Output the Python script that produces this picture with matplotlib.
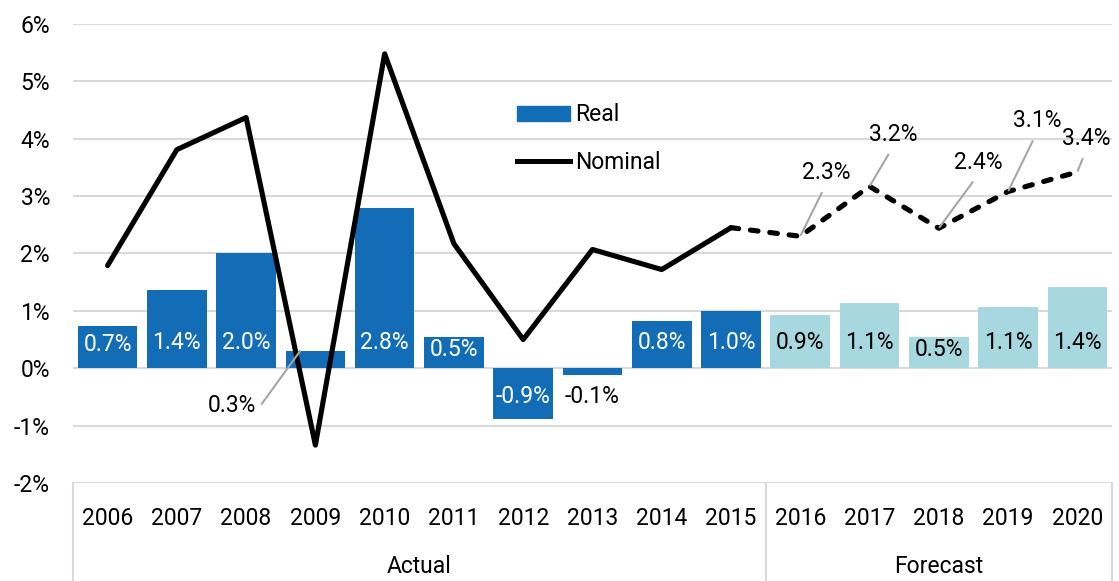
import matplotlib.pyplot as plt
from matplotlib.patches import Patch
from matplotlib.lines import Line2D

plt.rcParams['font.family'] = ['Roboto', 'DejaVu Sans']

years = [str(y) for y in range(2006, 2021)]
real = [0.74, 1.37, 2.0, 0.3, 2.8, 0.54, -0.89, -0.12, 0.82, 0.99, 0.92, 1.13, 0.54, 1.06, 1.41]
nominal = [1.79, 3.81, 4.37, -1.34, 5.48, 2.17, 0.50, 2.07, 1.72, 2.45, 2.3, 3.17, 2.44, 3.08, 3.42]
groups = ['Actual', 'Forecast']
n_actual = 10

DARK = '#136db6'
LIGHT = '#a8d8df'
GRID = '#d9d9d9'
LEADER = '#a6a6a6'
FS = 16.5

fig = plt.figure(figsize=(11.19, 5.81), dpi=100)
ax = fig.add_axes([0.0652, 0.1687, 0.9285, 0.79])

x = list(range(len(years)))
colors = [DARK if i < n_actual else LIGHT for i in x]
ax.bar(x, real, width=0.86, color=colors, zorder=2)

# nominal line, solid for actual and dashed for forecast
ax.plot(x[:n_actual], nominal[:n_actual], color='black', lw=3.7, zorder=3,
        solid_capstyle='round')
ax.plot(x[n_actual - 1:], nominal[n_actual - 1:], color='black', lw=3.7, zorder=3,
        linestyle=(0, (1.5, 2.3)), dash_capstyle='round')

# bar labels
for i, v in enumerate(real):
    if abs(v) < 0.35:
        continue
    col = 'white' if i < n_actual else 'black'
    if v > 0:
        y = min(0.45, v / 2 + 0.05)
    else:
        y = -0.5
    ax.text(i, y, f"{v:.1f}%", ha='center', va='center', color=col, fontsize=FS, zorder=4)

# small bars: labels outside
ax.text(7, -0.5, f"{real[7]:.1f}%", ha='center', va='center', color='black', fontsize=FS, zorder=4)
ax.annotate(f"{real[3]:.1f}%", xy=(3 - 0.22, real[3]), xytext=(-68, -54),
            textcoords='offset pixels', ha='center', va='center', fontsize=FS,
            arrowprops=dict(arrowstyle='-', color=LEADER, lw=1.5, shrinkA=2, shrinkB=0,
                            relpos=(1, 0.5),
                            connectionstyle='angle,angleA=0,angleB=54,rad=0'),
            zorder=4)

# forecast nominal labels
label_offsets = [(26, 64), (24, 52), (40, 66), (29, 71), (9, 34)]
for k, (dx, dy) in enumerate(label_offsets):
    i = n_actual + k
    ax.annotate(f"{nominal[i]:.1f}%", xy=(i, nominal[i]), xytext=(dx, dy),
                textcoords='offset pixels', ha='center', va='center', fontsize=FS,
                arrowprops=dict(arrowstyle='-', color=LEADER, lw=1.5, shrinkA=5, shrinkB=1,
                                relpos=(0.5, 0)),
                zorder=4)

ax.set_xlim(-0.5, len(years) - 0.5)
ax.set_ylim(-2, 6)
ax.set_yticks(range(-2, 7))
ax.set_yticklabels([f"{t}%" for t in range(-2, 7)], fontsize=FS)
ax.set_xticks(x)
ax.set_xticklabels(years, fontsize=FS)
ax.tick_params(axis='both', length=0)
ax.tick_params(axis='y', pad=16.5)
ax.tick_params(axis='x', pad=17)
ax.yaxis.grid(True, color=GRID, lw=1.5)
ax.set_axisbelow(True)
for s in ax.spines.values():
    s.set_visible(False)

# group axis
trans = ax.get_xaxis_transform()
for xs in [-0.5, n_actual - 0.5, len(years) - 0.5]:
    ax.plot([xs, xs], [0, -0.22], color=GRID, lw=1.5, transform=trans, clip_on=False)
ax.text((n_actual - 1) / 2, -0.183, groups[0], transform=trans, ha='center', va='center', fontsize=FS)
ax.text((n_actual + len(years) - 1) / 2, -0.183, groups[1], transform=trans, ha='center', va='center', fontsize=FS)

handles = [Patch(color=DARK), Line2D([], [], color='black', lw=3.6)]
ax.legend(handles, ['Real', 'Nominal'], loc='upper left', bbox_to_anchor=(0.408, 0.872),
          frameon=False, fontsize=FS, handlelength=2.27, handleheight=0.6,
          handletextpad=0.26, labelspacing=1.08)

fig.savefig('out.png', dpi=100)
